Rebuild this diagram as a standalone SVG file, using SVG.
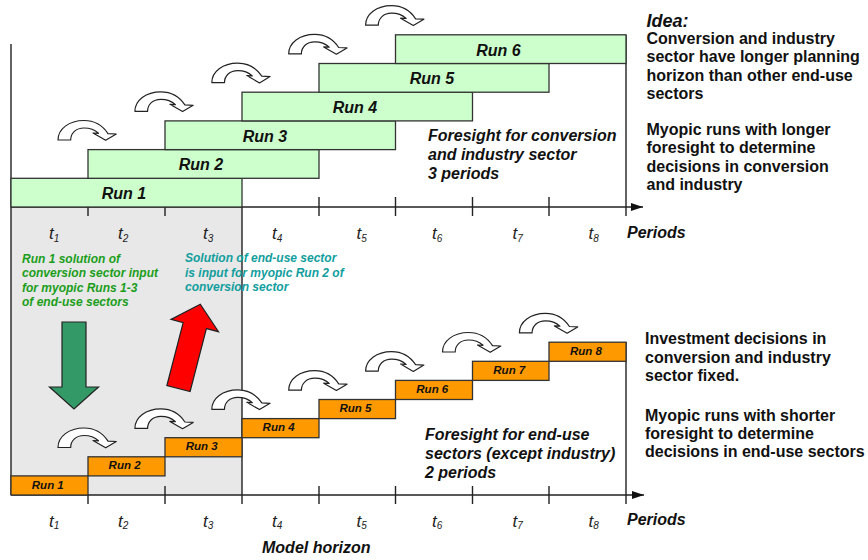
<svg xmlns="http://www.w3.org/2000/svg" width="868" height="560" viewBox="0 0 868 560">
<style>
text{font-family:"Liberation Sans",Arial,sans-serif}
.gb{fill:#ccffcc;stroke:#333;stroke-width:1.3}
.ob{fill:#ff9900;stroke:#333;stroke-width:1.3}
.gl{font-size:16px;font-weight:bold;font-style:italic;fill:#111;text-anchor:middle}
.ol{font-size:11.5px;font-weight:bold;font-style:italic;fill:#111;text-anchor:middle}
.ax{stroke:#222;stroke-width:1.4;fill:none}
.t{font-size:17px;font-style:italic;fill:#222}
.sub{font-size:10px}
.bi{font-size:16px;font-weight:bold;font-style:italic;fill:#111}
.b{font-size:16px;font-weight:bold;fill:#111}
.gt{font-size:12px;font-weight:bold;font-style:italic;fill:#1a9e1a}
.tt{font-size:12px;font-weight:bold;font-style:italic;fill:#129e9e}
.ca{fill:#fff;stroke:#222;stroke-width:1.2;stroke-linejoin:round}
</style>
<defs>
<path id="curv" d="M0,20 C0,9 11,0.5 26,0.5 C37,0.5 45,6 50,13.6 L58.3,14 L47.7,20.3 L35,13 L40.5,13.3 C37,10 32,8 26,8 C18,8 12.7,13 12.7,20 Z"/>
<marker id="ah" markerWidth="12" markerHeight="10" refX="12" refY="5" orient="auto" markerUnits="userSpaceOnUse">
<path d="M0,1 L12,5 L0,9 Z" fill="#111"/>
</marker>
</defs>

<g id="model-horizon-area">
<rect x="11" y="207" width="231" height="288" fill="#e8e8e8" stroke="none"/>
</g>

<g id="axes">
<line class="ax" x1="11" y1="44" x2="11" y2="495"/>
<line class="ax" x1="11" y1="207" x2="643" y2="207" marker-end="url(#ah)"/>
<line class="ax" x1="11" y1="495" x2="644" y2="495" marker-end="url(#ah)"/>
<line class="ax" x1="242" y1="207" x2="242" y2="504"/>
<line class="ax" x1="626" y1="35" x2="626" y2="216"/>
<line class="ax" x1="626" y1="342" x2="626" y2="504"/>
<path class="ax" d="M88,207V216 M165,207V216 M319,197V216 M395.5,197V216 M472.5,197V216 M549,197V216"/>
<path class="ax" d="M88,495V504 M165,486V504 M319,486V504 M395.5,486V504 M472.5,486V504 M549,486V504"/>
</g>

<g id="conv-runs">
<g id="crun1"><rect class="gb" x="11" y="178.3" width="231" height="28.7"/><text class="gl" x="124" y="199">Run 1</text></g>
<g id="crun2"><rect class="gb" x="88" y="149.6" width="231" height="28.7"/><text class="gl" x="201" y="170.3">Run 2</text></g>
<g id="crun3"><rect class="gb" x="165" y="120.9" width="230.5" height="28.7"/><text class="gl" x="265" y="141.6">Run 3</text></g>
<g id="crun4"><rect class="gb" x="242" y="92.2" width="230.5" height="28.7"/><text class="gl" x="355" y="112.9">Run 4</text></g>
<g id="crun5"><rect class="gb" x="319" y="63.5" width="230" height="28.7"/><text class="gl" x="432" y="84.2">Run 5</text></g>
<g id="crun6"><rect class="gb" x="395.5" y="34.8" width="230.5" height="28.7"/><text class="gl" x="498.5" y="55.5">Run 6</text></g>
</g>

<g id="enduse-runs">
<g id="erun1"><rect class="ob" x="11" y="475.9" width="77" height="19.1"/><text class="ol" x="47.8" y="488.5">Run 1</text></g>
<g id="erun2"><rect class="ob" x="88" y="456.8" width="77" height="19.1"/><text class="ol" x="124.6" y="469.4">Run 2</text></g>
<g id="erun3"><rect class="ob" x="165" y="437.7" width="77" height="19.1"/><text class="ol" x="201.7" y="450.3">Run 3</text></g>
<g id="erun4"><rect class="ob" x="242" y="418.6" width="77" height="19.1"/><text class="ol" x="278.6" y="431.2">Run 4</text></g>
<g id="erun5"><rect class="ob" x="319" y="399.5" width="76.5" height="19.1"/><text class="ol" x="355.5" y="412.1">Run 5</text></g>
<g id="erun6"><rect class="ob" x="395.5" y="380.4" width="77" height="19.1"/><text class="ol" x="432.3" y="393">Run 6</text></g>
<g id="erun7"><rect class="ob" x="472.5" y="361.3" width="76.5" height="19.1"/><text class="ol" x="509.3" y="373.9">Run 7</text></g>
<g id="erun8"><rect class="ob" x="549" y="342.2" width="77" height="19.1"/><text class="ol" x="586" y="354.8">Run 8</text></g>
</g>

<g id="connectors">
<use href="#curv" class="ca" x="58" y="120"/>
<use href="#curv" class="ca" x="134.9" y="91.3"/>
<use href="#curv" class="ca" x="211.8" y="62.6"/>
<use href="#curv" class="ca" x="288.7" y="33.9"/>
<use href="#curv" class="ca" x="365.6" y="5.2"/>
<use href="#curv" class="ca" x="58" y="427.5"/>
<use href="#curv" class="ca" x="134.9" y="408.4"/>
<use href="#curv" class="ca" x="211.8" y="389.3"/>
<use href="#curv" class="ca" x="288.7" y="370.2"/>
<use href="#curv" class="ca" x="365.6" y="351.1"/>
<use href="#curv" class="ca" x="442.5" y="332"/>
<use href="#curv" class="ca" x="519.4" y="312.9"/>
<path id="green-arrow" d="M62,322 L86,322 L86,387 L98.5,387 L74,409 L49.5,387 L62,387 Z" fill="#339966" stroke="#222" stroke-width="1.2"/>
<path id="red-arrow" transform="translate(178.5,388.5) rotate(14.5)" d="M-12,0 L-12,-65 L-24.5,-65 L0,-87 L24.5,-65 L12,-65 L12,0 Z" fill="#ff0000" stroke="#222" stroke-width="1.2"/>
</g>

<g id="period-labels-top">
<text class="t" x="49" y="239">t<tspan class="sub" dy="2.5">1</tspan></text>
<text class="t" x="118" y="239">t<tspan class="sub" dy="2.5">2</tspan></text>
<text class="t" x="203" y="239">t<tspan class="sub" dy="2.5">3</tspan></text>
<text class="t" x="272" y="239">t<tspan class="sub" dy="2.5">4</tspan></text>
<text class="t" x="356.5" y="239">t<tspan class="sub" dy="2.5">5</tspan></text>
<text class="t" x="432" y="239">t<tspan class="sub" dy="2.5">6</tspan></text>
<text class="t" x="512.5" y="239">t<tspan class="sub" dy="2.5">7</tspan></text>
<text class="t" x="588.5" y="239">t<tspan class="sub" dy="2.5">8</tspan></text>
<text class="bi" x="627" y="238">Periods</text>
</g>

<g id="period-labels-bottom">
<text class="t" x="49" y="526.5">t<tspan class="sub" dy="2.5">1</tspan></text>
<text class="t" x="118" y="526.5">t<tspan class="sub" dy="2.5">2</tspan></text>
<text class="t" x="203" y="526.5">t<tspan class="sub" dy="2.5">3</tspan></text>
<text class="t" x="272" y="526.5">t<tspan class="sub" dy="2.5">4</tspan></text>
<text class="t" x="356.5" y="526.5">t<tspan class="sub" dy="2.5">5</tspan></text>
<text class="t" x="432" y="526.5">t<tspan class="sub" dy="2.5">6</tspan></text>
<text class="t" x="512.5" y="526.5">t<tspan class="sub" dy="2.5">7</tspan></text>
<text class="t" x="588.5" y="526.5">t<tspan class="sub" dy="2.5">8</tspan></text>
<text class="bi" x="627" y="525">Periods</text>
<text class="bi" x="262" y="553">Model horizon</text>
</g>

<g id="note-green">
<text class="gt" x="22" y="262.5">Run 1 solution of</text>
<text class="gt" x="22" y="277">conversion sector input</text>
<text class="gt" x="22" y="291.5">for myopic Runs 1-3</text>
<text class="gt" x="22" y="305.5">of end-use sectors</text>
</g>
<g id="note-teal">
<text class="tt" x="185" y="262">Solution of end-use sector</text>
<text class="tt" x="185" y="276.5">is input for myopic Run 2 of</text>
<text class="tt" x="185" y="291">conversion sector</text>
</g>

<g id="foresight-conv">
<text class="bi" x="428" y="141">Foresight for conversion</text>
<text class="bi" x="428" y="160.2">and industry sector</text>
<text class="bi" x="428" y="179.4">3 periods</text>
</g>
<g id="foresight-enduse">
<text class="bi" x="425" y="439.5">Foresight for end-use</text>
<text class="bi" x="425" y="458.5">sectors (except industry)</text>
<text class="bi" x="425" y="477.5">2 periods</text>
</g>

<g id="idea-text">
<text class="bi" x="646.5" y="26.5" style="font-size:18px">Idea:</text>
<text class="b" x="646.5" y="44">Conversion and industry</text>
<text class="b" x="646.5" y="62.3">sector have longer planning</text>
<text class="b" x="646.5" y="80.6">horizon than other end-use</text>
<text class="b" x="646.5" y="99">sectors</text>
<text class="b" x="646.5" y="135">Myopic runs with longer</text>
<text class="b" x="646.5" y="153.3">foresight to determine</text>
<text class="b" x="646.5" y="171.6">decisions in conversion</text>
<text class="b" x="646.5" y="190">and industry</text>
</g>
<g id="enduse-text">
<text class="b" x="645" y="344.3">Investment decisions in</text>
<text class="b" x="645" y="362.6">conversion and industry</text>
<text class="b" x="645" y="381">sector fixed.</text>
<text class="b" x="645" y="420.7">Myopic runs with shorter</text>
<text class="b" x="645" y="439">foresight to determine</text>
<text class="b" x="645" y="457.3">decisions in end-use sectors</text>
</g>
</svg>
